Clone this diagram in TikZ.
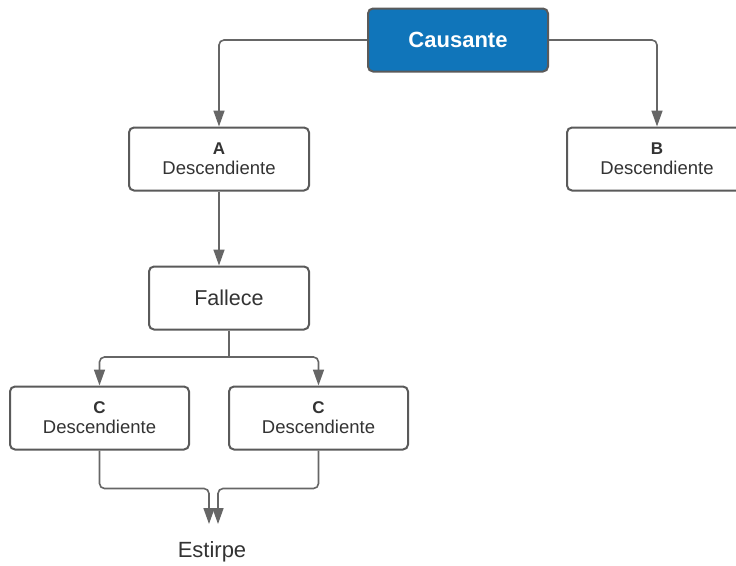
\documentclass[tikz,border=0pt]{standalone}
\usepackage{fontspec}
\setmainfont{Liberation Sans}
\usetikzlibrary{arrows.meta}
\definecolor{boxline}{HTML}{5A5A5A}
\definecolor{connline}{HTML}{666666}
\definecolor{causblue}{HTML}{1075BA}
\definecolor{txt}{HTML}{333333}
\tikzset{
  box/.style={draw=boxline, line width=2pt, rounded corners=5pt, fill=white,
    minimum width=180pt, minimum height=63pt, align=center, inner sep=0pt,
    text=txt, font=\fontsize{18.5}{20}\selectfont},
  conn/.style={draw=connline, line width=1.6pt, rounded corners=5pt,
    -{Triangle[length=16pt,width=11pt]}},
  plain/.style={draw=connline, line width=1.6pt, rounded corners=5pt}
}
\begin{document}
\begin{tikzpicture}[x=1pt,y=-1pt]
\clip (0,0) rectangle (736,565);
\fill[white] (0,0) rectangle (736,565);
\node[box, fill=causblue, draw=boxline, text=white, font=\fontsize{22}{24}\selectfont\bfseries] (c) at (458,40) {Causante};
\node[box] (a) at (219,159) {{\fontsize{17}{20}\selectfont\bfseries A}\\Descendiente};
\node[box] (b) at (657,159) {{\fontsize{17}{20}\selectfont\bfseries B}\\Descendiente};
\node[box, minimum width=160pt, font=\fontsize{21.5}{24}\selectfont] (f) at (229,298) {Fallece};
\node[box, minimum width=179pt] (c1) at (99.5,418) {{\fontsize{17}{20}\selectfont\bfseries C}\\Descendiente};
\node[box, minimum width=179pt] (c2) at (318.5,418) {{\fontsize{17}{20}\selectfont\bfseries C}\\Descendiente};
\node[text=txt, font=\fontsize{22}{24}\selectfont, inner sep=0pt] (e) at (212,552) {Estirpe};
\coordinate (fj) at (229,357);
\coordinate (e1) at (209,524);
\coordinate (e2) at (218,524);
\draw[conn] (c.west) -| (a.north);
\draw[conn] (c.east) -| (b.north);
\draw[conn] (a.south) -- (a.south |- f.north);
\draw[plain] (f.south) -- (fj);
\draw[conn] (fj) -| (c1.north);
\draw[conn] (fj) -| (c2.north);
\draw[conn] (c1.south) -- ++(0,38) -| (e1);
\draw[conn] (c2.south) -- ++(0,38) -| (e2);
\end{tikzpicture}
\end{document}
